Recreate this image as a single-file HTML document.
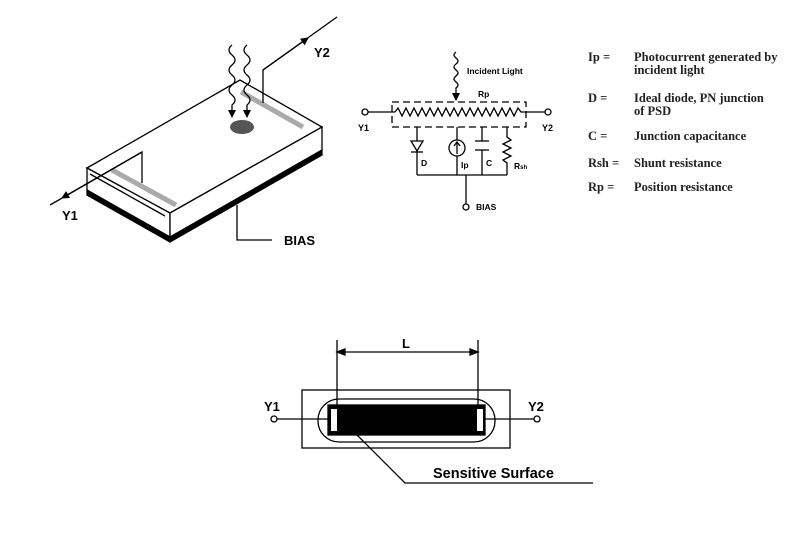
<!DOCTYPE html>
<html><head><meta charset="utf-8"><style>
html,body{margin:0;padding:0;background:#fff;width:800px;height:538px;overflow:hidden}
svg{display:block}
.s{font-family:"Liberation Sans",sans-serif;font-weight:bold}
.r{font-family:"Liberation Serif",serif;font-weight:bold;font-size:12.5px;fill:#222}
</style></head><body>
<svg width="800" height="538" viewBox="0 0 800 538" xmlns="http://www.w3.org/2000/svg">
<defs>
<marker id="ar" markerWidth="8" markerHeight="8" refX="7" refY="4" orient="auto" markerUnits="userSpaceOnUse"><path d="M0,0 L8,4 L0,8 Z" fill="#000"/></marker>
</defs>
<g stroke="#000" fill="none" stroke-width="1.3">
<!-- 3D box -->
<polygon points="87,195 170,242 322,155 322,150 170,237 87,190" fill="#000"/>
<polygon points="87,168 240,80 322,127 170,213" fill="#fff"/>
<polygon points="87,168 170,213 170,237 87,190" fill="#fff"/>
<polygon points="170,213 322,127 322,150 170,237" fill="#fff"/>
<line x1="90" y1="174" x2="165" y2="216"/>
<line x1="112" y1="170" x2="176" y2="205" stroke="#aaa" stroke-width="5"/>
<line x1="241" y1="92" x2="303" y2="127" stroke="#aaa" stroke-width="5"/>
<ellipse cx="242" cy="127" rx="12" ry="7" fill="#555" stroke="none"/>
<path d="M232,45 q-6,5 0,10 q6,5 0,10 q-6,5 0,10 q6,5 0,10 q-6,5 0,10 q6,5 0,10 l0,12" marker-end="url(#ar)"/>
<path d="M247,45 q-6,5 0,10 q6,5 0,10 q-6,5 0,10 q6,5 0,10 q-6,5 0,10 q6,5 0,10 l0,12" marker-end="url(#ar)"/>
<polyline points="142,183 142,152 50,205"/>
<line x1="142" y1="152" x2="62" y2="198" marker-end="url(#ar)"/>
<polyline points="263,103 263,70 337,17"/>
<line x1="263" y1="70" x2="308" y2="38" marker-end="url(#ar)"/>
<polyline points="237,205 237,240 272,240"/>
<!-- circuit -->
<circle cx="365" cy="112" r="3" fill="#fff"/>
<line x1="368" y1="112" x2="395" y2="112"/>
<rect x="392" y="102" width="134" height="25" stroke-dasharray="7,4"/>
<polyline points="395,112 398,108 402,116 406,108 410,116 414,108 418,116 422,108 426,116 430,108 434,116 438,108 442,116 446,108 450,116 454,108 458,116 462,108 466,116 470,108 474,116 478,108 482,116 486,108 490,116 494,108 498,116 502,108 506,116 510,108 514,116 518,108 521,112 545,112"/>
<circle cx="548" cy="112" r="3" fill="#fff"/>
<path d="M456,52 q-4,3 0,6 q4,3 0,6 q-4,3 0,6 q4,3 0,6 q-4,3 0,6 q4,3 0,6 l0,12" marker-end="url(#ar)"/>
<line x1="417" y1="127" x2="417" y2="175"/>
<polygon points="411,141 423,141 417,151" fill="#fff"/>
<line x1="411" y1="152" x2="423" y2="152"/>
<line x1="457" y1="127" x2="457" y2="175"/>
<circle cx="457" cy="148" r="8" fill="#fff"/>
<line x1="457" y1="154" x2="457" y2="143"/><path d="M454,146 L457,142 L460,146" />
<line x1="482" y1="127" x2="482" y2="141"/><line x1="475" y1="141" x2="489" y2="141"/>
<line x1="475" y1="150" x2="489" y2="150"/><line x1="482" y1="150" x2="482" y2="175"/>
<polyline points="507,127 507,137 511,140 503,144 511,148 503,152 511,156 503,160 507,163 507,175"/>
<line x1="417" y1="175" x2="507" y2="175"/>
<line x1="466" y1="175" x2="466" y2="204"/>
<circle cx="466" cy="207" r="3" fill="#fff"/>
<!-- bottom -->
<rect x="302" y="390" width="208" height="58"/>
<rect x="318" y="399" width="177" height="43" rx="21"/>
<rect x="328" y="405" width="157" height="30" fill="#000"/>
<rect x="331" y="409" width="6" height="22" fill="#fff" stroke="none"/>
<rect x="477" y="409" width="6" height="22" fill="#fff" stroke="none"/>
<line x1="337" y1="340" x2="337" y2="409"/><line x1="478" y1="340" x2="478" y2="409"/>
<line x1="345" y1="352" x2="470" y2="352"/>
<path d="M337,352 l8,-3 l0,6 z M478,352 l-8,-3 l0,6 z" fill="#000"/>
<circle cx="274" cy="419" r="3" fill="#fff"/><line x1="277" y1="419" x2="328" y2="419"/>
<circle cx="537" cy="419" r="3" fill="#fff"/><line x1="485" y1="419" x2="534" y2="419"/>
<polyline points="357,435 405,483 593,483"/>
</g>
<text class="s" x="314" y="57" font-size="13">Y2</text>
<text class="s" x="62" y="220" font-size="13">Y1</text>
<text class="s" x="284" y="245" font-size="13">BIAS</text>
<text class="s" x="467" y="74" font-size="8.5">Incident Light</text>
<text class="s" x="478" y="97" font-size="8.5">Rp</text>
<text class="s" x="358" y="131" font-size="9">Y1</text>
<text class="s" x="542" y="131" font-size="9">Y2</text>
<text class="s" x="421" y="166" font-size="8.5">D</text>
<text class="s" x="461" y="168" font-size="8.5">Ip</text>
<text class="s" x="486" y="166" font-size="8.5">C</text>
<text class="s" x="514" y="169" font-size="8.5">R<tspan font-size="6">sh</tspan></text>
<text class="s" x="476" y="210" font-size="8.5">BIAS</text>
<text class="r" x="588" y="61">Ip =</text><text class="r" x="634" y="61">Photocurrent generated by</text>
<text class="r" x="634" y="74">incident light</text>
<text class="r" x="588" y="102">D =</text><text class="r" x="634" y="102">Ideal diode, PN junction</text>
<text class="r" x="634" y="115">of PSD</text>
<text class="r" x="588" y="140">C =</text><text class="r" x="634" y="140">Junction capacitance</text>
<text class="r" x="588" y="167">Rsh =</text><text class="r" x="634" y="167">Shunt resistance</text>
<text class="r" x="588" y="191">Rp =</text><text class="r" x="634" y="191">Position resistance</text>
<text class="s" x="402" y="348" font-size="13">L</text>
<text class="s" x="264" y="411" font-size="13">Y1</text>
<text class="s" x="528" y="411" font-size="13">Y2</text>
<text class="s" x="433" y="478" font-size="14.5">Sensitive Surface</text>
</svg>
</body></html>
